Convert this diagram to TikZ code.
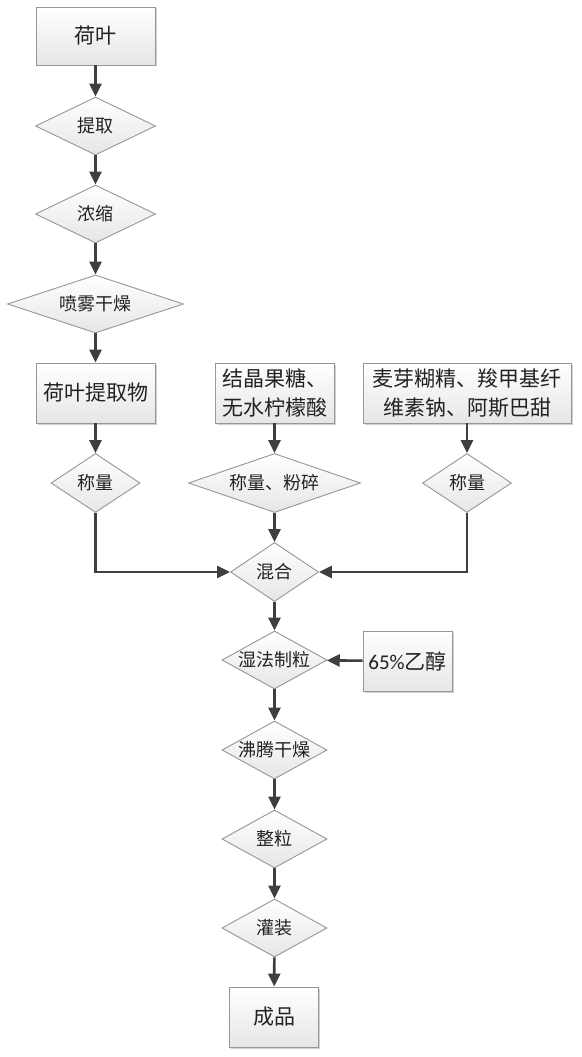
\documentclass[tikz,border=0pt]{standalone}
\usepackage{fontspec}
\newfontfamily\cjk{Noto Sans CJK SC}
\newfontfamily\latinf{Carlito}
\usetikzlibrary{shapes.geometric,arrows.meta,shadows}
\definecolor{edgec}{HTML}{969696}
\definecolor{arrc}{HTML}{3F3F3F}
\definecolor{txtc}{HTML}{222222}
\definecolor{shadec}{HTML}{E6E6E6}
\begin{document}
\begin{tikzpicture}[x=1pt,y=-1pt,
  boxst/.style={rectangle, draw=edgec, line width=0.9pt, top color=white, bottom color=shadec,
    drop shadow={shadow xshift=1.5pt, shadow yshift=-1.5pt, fill=black, opacity=0.18},
    inner sep=0pt, align=center, text=txtc, font=\cjk\fontsize{21}{29}\selectfont},
  decst/.style={diamond, draw=edgec, line width=0.9pt, top color=white, bottom color=shadec,
    inner sep=0pt,
    label={[inner sep=0pt, text=txtc, font=\cjk\fontsize{18}{22}\selectfont]center:#1}},
  flow/.style={draw=arrc, line width=2.6pt, -{Triangle[length=13pt,width=12pt]}}
]
\useasboundingbox (0,0) rectangle (581,1057);
\fill[white] (0,0) rectangle (581,1057);

\node[boxst, minimum width=119pt, minimum height=58pt] (heye) at (95.5,36) {荷叶};
\node[decst=提取, minimum width=120pt, minimum height=58pt] (tiqu) at (95.5,126) {};
\node[decst=浓缩, minimum width=120pt, minimum height=58pt] (nongsuo) at (95.5,214) {};
\node[decst=喷雾干燥, minimum width=176pt, minimum height=58pt] (penwu) at (95.5,304) {};

\node[boxst, minimum width=119pt, minimum height=60pt] (wu) at (95.5,393) {荷叶提取物};
\node[boxst, minimum width=119pt, minimum height=60pt] (tang) at (274.5,393) {结晶果糖、\\无水柠檬酸};
\node[boxst, minimum width=208pt, minimum height=60pt] (mai) at (467,393) {麦芽糊精、羧甲基纤\\维素钠、阿斯巴甜};

\node[decst=称量, minimum width=89pt, minimum height=59pt] (cla) at (95.5,483) {};
\node[decst=称量、粉碎, minimum width=172pt, minimum height=59pt] (clb) at (274.5,483) {};
\node[decst=称量, minimum width=89pt, minimum height=59pt] (clc) at (467,483) {};

\node[decst=混合, minimum width=88pt, minimum height=59pt] (hunhe) at (274.5,572) {};
\node[decst=湿法制粒, minimum width=105pt, minimum height=58pt] (shifa) at (274.5,660) {};
\node[boxst, minimum width=89pt, minimum height=60pt] (yichun) at (407.5,661) {{\latinf 65\%}乙醇};
\node[decst=沸腾干燥, minimum width=105pt, minimum height=58pt] (feiteng) at (274.5,750) {};
\node[decst=整粒, minimum width=105pt, minimum height=58pt] (zhengli) at (274.5,839) {};
\node[decst=灌装, minimum width=105pt, minimum height=58pt] (guan) at (274.5,928) {};
\node[boxst, minimum width=89pt, minimum height=60pt] (cheng) at (274,1017) {成品};

\draw[flow] (heye) -- (tiqu);
\draw[flow] (tiqu) -- (nongsuo);
\draw[flow] (nongsuo) -- (penwu);
\draw[flow] (penwu) -- (wu);
\draw[flow] (wu) -- (cla);
\draw[flow] (tang) -- (clb);
\draw[flow] (mai) -- (clc);
\draw[flow] (clb) -- (hunhe);
\draw[flow] (cla.south) |- (hunhe.west);
\draw[flow] (clc.south) |- (hunhe.east);
\draw[flow] (hunhe) -- (shifa);
\draw[flow] (yichun) -- (shifa);
\draw[flow] (shifa) -- (feiteng);
\draw[flow] (feiteng) -- (zhengli);
\draw[flow] (zhengli) -- (guan);
\draw[flow] (guan) -- (cheng);
\end{tikzpicture}
\end{document}
